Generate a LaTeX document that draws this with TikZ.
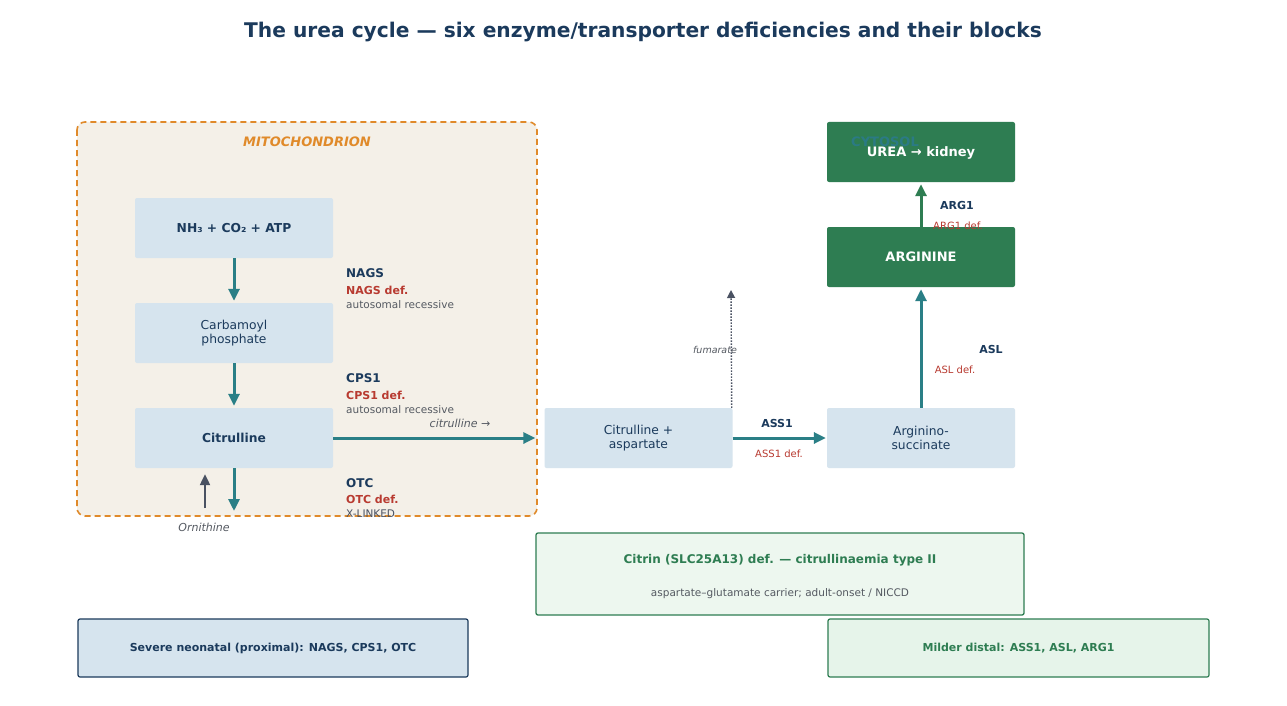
\documentclass[tikz,border=0pt]{standalone}
\usepackage{fontspec}
\setmainfont{DejaVu Sans}
\usetikzlibrary{arrows.meta,positioning}
\definecolor{navy}{HTML}{1B3A5C}
\definecolor{teal}{HTML}{2A7F86}
\definecolor{boxblue}{HTML}{D6E4EE}
\definecolor{mitofill}{HTML}{F4F0E8}
\definecolor{mitoline}{HTML}{E08A2A}
\definecolor{grn}{HTML}{2E7D52}
\definecolor{defred}{HTML}{B83A30}
\definecolor{gtxt}{HTML}{555A62}
\definecolor{darkg}{HTML}{4A5262}
\definecolor{citfill}{HTML}{EDF7EF}
\definecolor{mildfill}{HTML}{E6F4EA}
\definecolor{cyto}{HTML}{2B7A92}
\newcommand{\fs}[1]{\fontsize{#1pt}{\dimexpr #1pt*6/5\relax}\selectfont}
\tikzset{
  lbox/.style={fill=boxblue, rounded corners=2pt, minimum width=198pt, minimum height=60pt, inner sep=0pt, text=navy, align=center, font=\fs{12.3}},
  gbox/.style={fill=grn, rounded corners=2pt, minimum width=188pt, minimum height=60pt, inner sep=0pt, text=white, align=center, font=\fs{13}\bfseries, text depth=0pt},
  tarrow/.style={draw=teal, line width=3pt, -{Triangle[length=12pt,width=11pt]}},
  enz/.style={anchor=west, text=navy, font=\fs{12}\bfseries, inner sep=0pt},
  edef/.style={anchor=west, text=defred, font=\fs{11}\bfseries, inner sep=0pt},
  einh/.style={anchor=west, text=gtxt, font=\fs{10.5}, inner sep=0pt},
}
\begin{document}
\begin{tikzpicture}[x=1pt,y=-1pt]
\useasboundingbox (0,0) rectangle (1287,706);
\fill[white] (0,0) rectangle (1287,706);
% title
\node[text=navy, font=\fs{20.2}\bfseries] (title) at (643,32) {The urea cycle — six enzyme/transporter deficiencies and their blocks};
% mitochondrion
\draw[mitoline, fill=mitofill, dash pattern=on 6pt off 4pt, line width=1.6pt, rounded corners=8pt] (77,122) rectangle (537,516);
\node[text=mitoline, font=\fs{13}\bfseries\itshape] (mitolab) at (307,142) {MITOCHONDRION};
% boxes in mitochondrion
\node[lbox, font=\fs{12.3}\bfseries, text depth=0pt] (nh3) at (234,228) {NH₃ + CO₂ + ATP};
\node[lbox] (carb) at (234,333) {Carbamoyl\\phosphate};
\node[lbox, font=\fs{12.3}\bfseries, text depth=0pt] (cit) at (234,438) {Citrulline};
\draw[tarrow] (nh3.south) -- ([yshift=2pt]carb.north);
\draw[tarrow] (carb.south) -- ([yshift=2pt]cit.north);
\coordinate (otcend) at (234,511);
\draw[tarrow] (cit.south) -- (otcend);
% enzyme labels
\node[enz] (nags) at (346,273) {NAGS};
\node[edef] (nagsd) at (346,290) {NAGS def.};
\node[einh] (nagsi) at (346,305) {autosomal recessive};
\node[enz] (cps) at (346,378) {CPS1};
\node[edef] (cpsd) at (346,395) {CPS1 def.};
\node[einh] (cpsi) at (346,410) {autosomal recessive};
\node[enz] (otc) at (346,483) {OTC};
\node[edef] (otcd) at (346,499) {OTC def.};
\node[einh, text=darkg] (otci) at (346,514) {X-LINKED};
% ornithine
\coordinate (orn) at (205,508);
\draw[draw=darkg, line width=2.2pt, -{Triangle[length=11pt,width=10pt]}] (orn) -- ([yshift=-6pt]cit.south -| orn);
\node[text=gtxt, font=\fs{11}\itshape] (ornlab) at (204,527) {Ornithine};
% cytosol boxes
\node[lbox, minimum width=188pt] (citasp) at (638.5,438) {Citrulline +\\aspartate};
\node[lbox, minimum width=188pt] (argsuc) at (921,438) {Arginino-\\succinate};
\node[gbox] (arg) at (921,257) {ARGININE};
\node[gbox] (urea) at (921,152) {UREA → kidney};
\node[text=cyto, font=\fs{13}\bfseries, opacity=0.8] (cytolab) at (885,142) {CYTOSOL};
% citrulline transfer
\draw[tarrow, shorten >=9pt] (cit.east) -- (citasp.west);
\node[text=gtxt, font=\fs{11}\itshape] (citlab) at (460,423) {citrulline →};
% ASS1
\draw[tarrow] (citasp.east) -- ([xshift=-1pt]argsuc.west);
\node[text=navy, font=\fs{11}\bfseries] (ass) at (777,423) {ASS1};
\node[text=defred, font=\fs{10}] (assd) at (779,454) {ASS1 def.};
% fumarate
\coordinate (fum) at (731,290);
\draw[draw=darkg, line width=1.4pt, dash pattern=on 1.5pt off 1.5pt, -{Triangle[length=8pt,width=8pt]}] ([xshift=-1pt]citasp.north east) -- (fum);
\node[text=gtxt, font=\fs{9.5}\itshape] (fumlab) at (715,350) {fumarate};
% ASL
\draw[tarrow] (argsuc.north) -- ([yshift=-2pt]arg.south);
\node[text=navy, font=\fs{11}\bfseries] (asl) at (991,349) {ASL};
\node[text=defred, font=\fs{10}] (asld) at (955,370) {ASL def.};
% ARG1
\draw[draw=grn, line width=3pt, -{Triangle[length=12pt,width=11pt]}] (arg.north) -- ([yshift=-2pt]urea.south);
\node[text=navy, font=\fs{11}\bfseries] (arg1) at (957,205) {ARG1};
\node[text=defred, font=\fs{10}] (arg1d) at (958,226) {ARG1 def.};
% citrin box
\node[draw=grn, fill=citfill, line width=1.3pt, rounded corners=2pt, minimum width=488pt, minimum height=82pt] (citrin) at (780,574) {};
\node[text=grn, font=\fs{12}\bfseries] (citrint) at (780,560) {Citrin (SLC25A13) def. — citrullinaemia type II};
\node[text=gtxt, font=\fs{10.5}] (citrins) at (780,594) {aspartate–glutamate carrier; adult-onset / NICCD};
% severity boxes
\node[draw=navy, fill=boxblue, line width=1.2pt, rounded corners=2pt, minimum width=390pt, minimum height=58pt, text=navy, font=\fs{11}\bfseries] (severe) at (273,648) {Severe neonatal (proximal): NAGS, CPS1, OTC};
\node[draw=grn, fill=mildfill, line width=1.2pt, rounded corners=2pt, minimum width=381pt, minimum height=58pt, text=grn, font=\fs{11}\bfseries] (milder) at (1018.5,648) {Milder distal: ASS1, ASL, ARG1};
\end{tikzpicture}
\end{document}
